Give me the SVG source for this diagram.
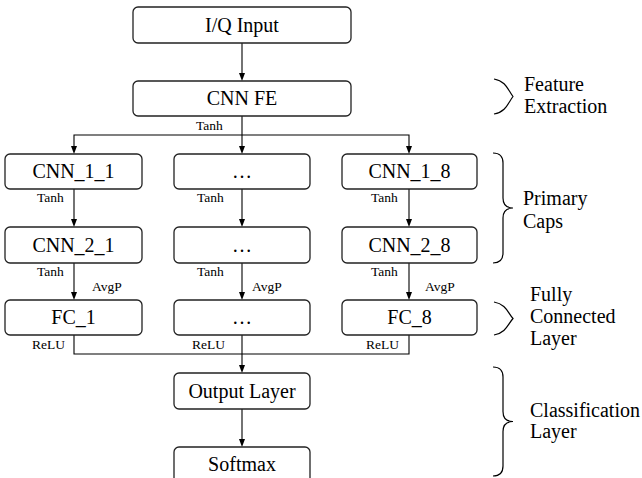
<svg xmlns="http://www.w3.org/2000/svg" width="642" height="478" viewBox="0 0 642 478">
<style>
.box{fill:#fff;stroke:#222;stroke-width:1.3}
.ln{fill:none;stroke:#000;stroke-width:1.1}
.ah{fill:#000;stroke:none}
.br{fill:none;stroke:#000;stroke-width:1.2}
</style>
<rect width="642" height="478" fill="#fff"/>
<g id="connectors">
<line class="ln" x1="242" y1="43" x2="242" y2="75"/>
<line class="ln" x1="242" y1="116" x2="242" y2="148"/>
<polyline class="ln" points="74,148 74,135 409,135 409,148"/>
<line class="ln" x1="74" y1="189" x2="74" y2="221"/>
<line class="ln" x1="242" y1="189" x2="242" y2="221"/>
<line class="ln" x1="409" y1="189" x2="409" y2="221"/>
<line class="ln" x1="74" y1="263" x2="74" y2="294"/>
<line class="ln" x1="242" y1="263" x2="242" y2="294"/>
<line class="ln" x1="409" y1="263" x2="409" y2="294"/>
<polyline class="ln" points="74,335 74,354 409,354 409,335"/>
<line class="ln" x1="242" y1="335" x2="242" y2="367"/>
<line class="ln" x1="242" y1="409" x2="242" y2="441"/>
<polygon class="ah" points="239,73 245,73 242,81"/>
<polygon class="ah" points="239,146 245,146 242,154"/>
<polygon class="ah" points="71,146 77,146 74,154"/>
<polygon class="ah" points="406,146 412,146 409,154"/>
<polygon class="ah" points="71,219 77,219 74,227"/>
<polygon class="ah" points="239,219 245,219 242,227"/>
<polygon class="ah" points="406,219 412,219 409,227"/>
<polygon class="ah" points="71,292 77,292 74,300"/>
<polygon class="ah" points="239,292 245,292 242,300"/>
<polygon class="ah" points="406,292 412,292 409,300"/>
<polygon class="ah" points="239,365 245,365 242,373"/>
<polygon class="ah" points="239,439 245,439 242,447"/>
<text font-family="Liberation Serif" font-size="13.5" x="196" y="130">Tanh</text>
<text font-family="Liberation Serif" font-size="13.5" x="37" y="202">Tanh</text>
<text font-family="Liberation Serif" font-size="13.5" x="197" y="202">Tanh</text>
<text font-family="Liberation Serif" font-size="13.5" x="371" y="202">Tanh</text>
<text font-family="Liberation Serif" font-size="13.5" x="37" y="276">Tanh</text>
<text font-family="Liberation Serif" font-size="13.5" x="197" y="276">Tanh</text>
<text font-family="Liberation Serif" font-size="13.5" x="371" y="276">Tanh</text>
<text font-family="Liberation Serif" font-size="13.5" x="92" y="291">AvgP</text>
<text font-family="Liberation Serif" font-size="13.5" x="252" y="291">AvgP</text>
<text font-family="Liberation Serif" font-size="13.5" x="425" y="291">AvgP</text>
<text font-family="Liberation Serif" font-size="13.5" x="32" y="349">ReLU</text>
<text font-family="Liberation Serif" font-size="13.5" x="192" y="349">ReLU</text>
<text font-family="Liberation Serif" font-size="13.5" x="366" y="349">ReLU</text>
</g>
<g id="iq"><rect class="box" x="133" y="7" width="218" height="36" rx="5"/><text font-family="Liberation Serif" font-size="20" text-anchor="middle" x="242" y="32">I/Q Input</text></g>
<g id="cnnfe"><rect class="box" x="133" y="81" width="218" height="35" rx="5"/><text font-family="Liberation Serif" font-size="20" text-anchor="middle" x="242" y="105">CNN FE</text></g>
<g id="cnn11"><rect class="box" x="5" y="154" width="137" height="35" rx="5"/><text font-family="Liberation Serif" font-size="20" text-anchor="middle" x="73.5" y="178">CNN_1_1</text></g>
<g id="cnn1m"><rect class="box" x="174" y="154" width="136" height="35" rx="5"/><text font-family="Liberation Serif" font-size="20" text-anchor="middle" x="242" y="178">…</text></g>
<g id="cnn18"><rect class="box" x="342" y="154" width="135" height="35" rx="5"/><text font-family="Liberation Serif" font-size="20" text-anchor="middle" x="409.5" y="178">CNN_1_8</text></g>
<g id="cnn21"><rect class="box" x="5" y="227" width="137" height="36" rx="5"/><text font-family="Liberation Serif" font-size="20" text-anchor="middle" x="73.5" y="252">CNN_2_1</text></g>
<g id="cnn2m"><rect class="box" x="174" y="227" width="136" height="36" rx="5"/><text font-family="Liberation Serif" font-size="20" text-anchor="middle" x="242" y="252">…</text></g>
<g id="cnn28"><rect class="box" x="342" y="227" width="135" height="36" rx="5"/><text font-family="Liberation Serif" font-size="20" text-anchor="middle" x="409.5" y="252">CNN_2_8</text></g>
<g id="fc1"><rect class="box" x="5" y="300" width="137" height="35" rx="5"/><text font-family="Liberation Serif" font-size="20" text-anchor="middle" x="73.5" y="324">FC_1</text></g>
<g id="fcm"><rect class="box" x="174" y="300" width="136" height="35" rx="5"/><text font-family="Liberation Serif" font-size="20" text-anchor="middle" x="242" y="324">…</text></g>
<g id="fc8"><rect class="box" x="342" y="300" width="135" height="35" rx="5"/><text font-family="Liberation Serif" font-size="20" text-anchor="middle" x="409.5" y="324">FC_8</text></g>
<g id="output"><rect class="box" x="174" y="373" width="136" height="36" rx="5"/><text font-family="Liberation Serif" font-size="20" text-anchor="middle" x="242" y="398">Output Layer</text></g>
<g id="softmax"><rect class="box" x="174" y="447" width="136" height="40" rx="5"/><text font-family="Liberation Serif" font-size="20" text-anchor="middle" x="242" y="471">Softmax</text></g>
<g id="brace-fe">
<path class="br" d="M494,79 C506,81 508,90 513,96.5 C508,103 506,112 494,114"/>
<text font-family="Liberation Serif" font-size="20" x="524" y="91">Feature</text>
<text font-family="Liberation Serif" font-size="20" x="524" y="113">Extraction</text>
</g>
<g id="brace-pc">
<path class="br" d="M493,153 Q503,153 503,163 L503,198 Q503,208 513,208 Q503,208 503,218 L503,253 Q503,263 493,263"/>
<text font-family="Liberation Serif" font-size="20" x="523" y="205">Primary</text>
<text font-family="Liberation Serif" font-size="20" x="523" y="228">Caps</text>
</g>
<g id="brace-fc">
<path class="br" d="M494,302 C506,304 508,313 513,318.5 C508,324 506,333 494,335"/>
<text font-family="Liberation Serif" font-size="20" x="530" y="301">Fully</text>
<text font-family="Liberation Serif" font-size="20" x="530" y="323">Connected</text>
<text font-family="Liberation Serif" font-size="20" x="530" y="345">Layer</text>
</g>
<g id="brace-cl">
<path class="br" d="M493,367 Q503,367 503,377 L503,411.5 Q503,421.5 513,421.5 Q503,421.5 503,431.5 L503,466 Q503,476 493,476"/>
<text font-family="Liberation Serif" font-size="20" x="530" y="417">Classification</text>
<text font-family="Liberation Serif" font-size="20" x="530" y="438">Layer</text>
</g>
</svg>
